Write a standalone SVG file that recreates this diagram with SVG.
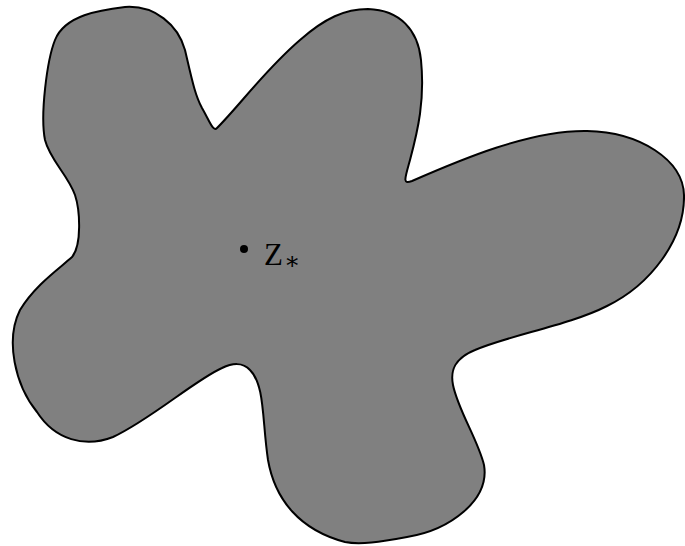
<svg xmlns="http://www.w3.org/2000/svg" width="685" height="546" viewBox="0 0 685 546">
<style>
.blob{fill:#808080;stroke:#000;stroke-width:2;stroke-linejoin:round}
.lbl{font-family:"Liberation Serif","DejaVu Serif",serif;fill:#000}
</style>
<rect width="685" height="546" fill="#fff"/>
<g id="region">
<path class="blob" d="M 217,128
C 240,105 265,70 300,40
C 325,18 345,9 368,9
C 400,10 418,30 421,60
C 425,100 418,130 410,160
C 405,178 402,185 412,181
C 460,160 530,130 587,131
C 640,132 683,160 684,195
C 685,240 650,285 607,306
C 570,325 510,335 475,350
C 455,358 450,370 453,385
C 458,410 478,440 484,465
C 490,500 450,530 407,537
C 380,542 360,545 345,542
C 300,530 275,500 268,460
C 262,420 265,385 250,370
C 243,362 232,363 222,368
C 195,380 150,420 113,437
C 85,448 55,440 37,412
C 15,385 5,340 20,310
C 35,285 60,268 72,257
C 82,245 80,210 75,195
C 68,175 50,160 45,140
C 40,115 47,60 55,40
C 65,15 100,10 125,7
C 155,5 178,25 185,50
C 192,80 195,95 202,108
C 210,122 213,132 217,128 Z"/>
</g>
<g id="zstar">
<circle cx="244" cy="249" r="4" fill="#000"/>
<text class="lbl" x="264" y="265" font-size="31">Z<tspan font-size="24" dx="1" dy="4">∗</tspan></text>
</g>
</svg>
